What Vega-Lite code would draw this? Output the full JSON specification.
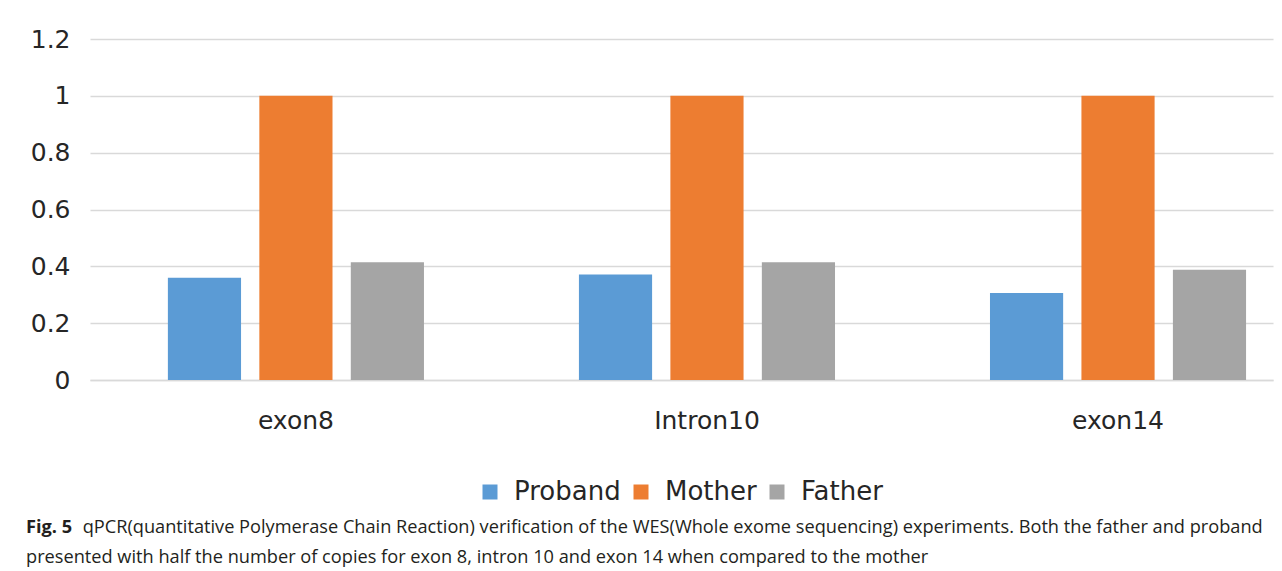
{
  "$schema": "https://vega.github.io/schema/vega-lite/v6.json",
  "autosize": "none",
  "width": 1183,
  "height": 341,
  "padding": {"left": 90, "top": 39, "right": 9, "bottom": 191},
  "background": "white",
  "data": {
    "values": [
      {"region": "exon8", "member": "Proband", "value": 0.36},
      {"region": "exon8", "member": "Mother", "value": 1.0},
      {"region": "exon8", "member": "Father", "value": 0.414},
      {"region": "Intron10", "member": "Proband", "value": 0.371},
      {"region": "Intron10", "member": "Mother", "value": 1.0},
      {"region": "Intron10", "member": "Father", "value": 0.414},
      {"region": "exon14", "member": "Proband", "value": 0.306},
      {"region": "exon14", "member": "Mother", "value": 1.0},
      {"region": "exon14", "member": "Father", "value": 0.388}
    ]
  },
  "title": {
    "text": "Fig.\u00a05",
    "subtitle": [
      "\u200b\u00a0\u00a0\u00a0\u00a0\u00a0\u00a0\u00a0\u00a0\u00a0\u00a0\u00a0\u00a0qPCR(quantitative Polymerase Chain Reaction) verification of the WES(Whole exome sequencing) experiments. Both the father and proband",
      "presented with half the number of copies for exon 8, intron 10 and exon 14 when compared to the mother"
    ],
    "orient": "bottom",
    "anchor": "start",
    "frame": "group",
    "dx": -64,
    "offset": 14,
    "font": "Open Sans",
    "fontSize": 18.2,
    "fontWeight": "bold",
    "color": "#231f20",
    "subtitleFont": "Open Sans",
    "subtitleFontSize": 18.2,
    "subtitleColor": "#231f20",
    "subtitlePadding": -18,
    "subtitleLineHeight": 30
  },
  "mark": {"type": "bar"},
  "encoding": {
    "x": {
      "field": "region",
      "type": "nominal",
      "sort": ["exon8", "Intron10", "exon14"],
      "scale": {"paddingInner": 0.377, "paddingOuter": 0.1275, "align": 0.743},
      "axis": {
        "title": null,
        "labelAngle": 0,
        "ticks": false,
        "domain": true,
        "domainColor": "#d9d9d9",
        "domainWidth": 1.5,
        "labelFont": "DejaVu Sans",
        "labelFontSize": 25,
        "labelColor": "#262626",
        "labelPadding": 28
      }
    },
    "xOffset": {
      "field": "member",
      "type": "nominal",
      "sort": ["Proband", "Mother", "Father"],
      "scale": {"paddingInner": 0.2, "paddingOuter": 0}
    },
    "y": {
      "field": "value",
      "type": "quantitative",
      "scale": {"domain": [0, 1.2], "nice": false},
      "axis": {
        "title": null,
        "values": [0, 0.2, 0.4, 0.6, 0.8, 1, 1.2],
        "format": "~g",
        "ticks": false,
        "domain": false,
        "grid": true,
        "gridColor": "#d9d9d9",
        "gridWidth": 1.5,
        "labelFont": "DejaVu Sans",
        "labelFontSize": 25,
        "labelColor": "#262626",
        "labelPadding": 20
      }
    },
    "color": {
      "field": "member",
      "type": "nominal",
      "sort": ["Proband", "Mother", "Father"],
      "scale": {"domain": ["Proband", "Mother", "Father"], "range": ["#5b9bd5", "#ed7d31", "#a5a5a5"]},
      "legend": {
        "title": null,
        "orient": "none",
        "legendX": 387,
        "legendY": 440,
        "direction": "horizontal",
        "symbolType": "square",
        "symbolSize": 225,
        "symbolStrokeWidth": 0,
        "labelFont": "DejaVu Sans",
        "labelFontSize": 26,
        "labelColor": "#262626",
        "labelOffset": 11,
        "columnPadding": 7
      }
    }
  },
  "config": {
    "view": {"stroke": null}
  }
}
